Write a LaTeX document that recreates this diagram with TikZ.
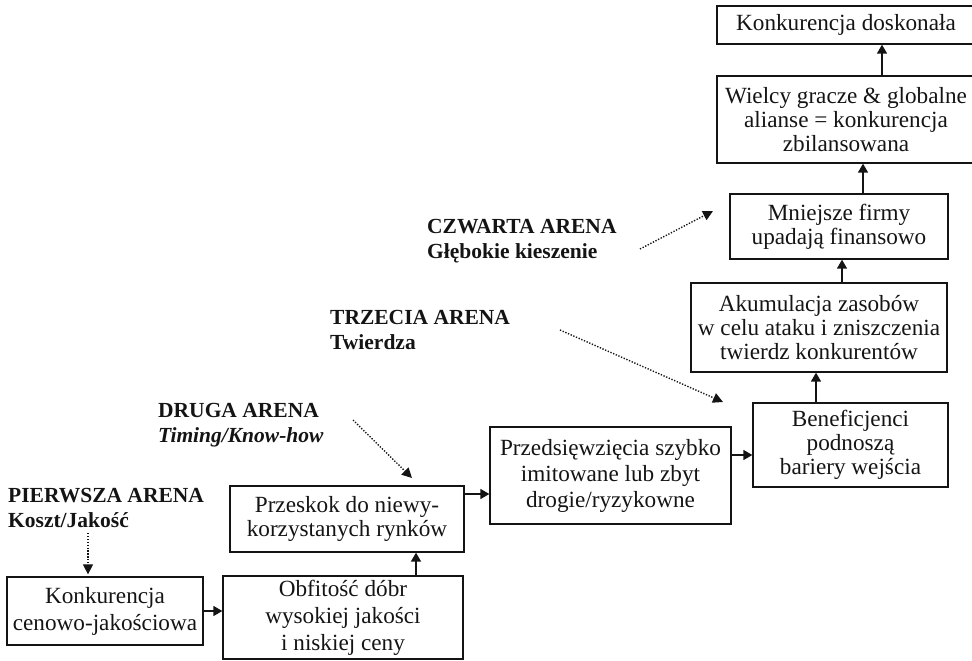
\documentclass[tikz,border=0pt]{standalone}
\usepackage{fontspec}
\setmainfont{Liberation Serif}
\usetikzlibrary{arrows.meta}

\definecolor{ink}{RGB}{20,20,20}
\newcommand\arenaboxfont{\fontsize{23.2}{24}\selectfont}
\newcommand\arenawidefont{\fontsize{23.2}{27}\selectfont}
\newcommand\arenalabelfont{\fontsize{21.5}{25}\selectfont\bfseries}

\begin{document}
\begin{tikzpicture}[x=1pt,y=-1pt,
  box/.style={draw=ink,line width=1.3pt,align=center,inner sep=0pt,
              text=ink,font=\arenaboxfont},
  arenalabel/.style={anchor=base west,align=left,inner sep=0pt,
              text=ink,font=\arenalabelfont},
  flow/.style={draw=ink,line width=1.4pt,-{Triangle[length=9pt,width=10pt]}},
  dotarr/.style={draw=ink,line width=1.4pt,dash pattern=on 1.3pt off 1.6pt,
              -{Triangle[length=10pt,width=10pt]}}]

\useasboundingbox (0,0) rectangle (972,661);

% process chain
\node[box,minimum width=196pt,minimum height=68pt,font=\arenawidefont] (k1) at (105,611)
  {Konkurencja\\cenowo-jakościowa};
\node[box,minimum width=240pt,minimum height=83pt,font=\arenawidefont] (k2) at (343,617.5)
  {Obfitość dóbr\\wysokiej jakości\\i niskiej ceny};
\node[box,minimum width=234pt,minimum height=66pt] (k3) at (347,519)
  {Przeskok do niewy-\\korzystanych rynków};
\node[box,minimum width=241pt,minimum height=97pt,font=\fontsize{23.2}{26}\selectfont] (k4) at (610.5,475.5)
  {Przedsięwzięcia szybko\\imitowane lub zbyt\\drogie/ryzykowne};
\node[box,minimum width=195pt,minimum height=84pt] (k5) at (850.5,445)
  {Beneficjenci\\podnoszą\\bariery wejścia};
\node[box,minimum width=256pt,minimum height=89pt] (k6) at (819,327.5)
  {Akumulacja zasobów\\w celu ataku i zniszczenia\\twierdz konkurentów};
\node[box,minimum width=218pt,minimum height=65pt] (k7) at (839,226.5)
  {Mniejsze firmy\\upadają finansowo};
\node[box,minimum width=258pt,minimum height=87pt] (k8) at (846,119.5)
  {Wielcy gracze \& globalne\\alianse = konkurencja\\zbilansowana};
\node[box,minimum width=258pt,minimum height=38pt] (k9) at (846,25)
  {Konkurencja doskonała};

% arena labels (anchored on the baseline of their second line)
\node[arenalabel] (a1) at (8,527) {PIERWSZA ARENA\\Koszt/Jakość};
\node[arenalabel] (a2) at (158,442) {DRUGA ARENA\\\textit{Timing/Know-how}};
\node[arenalabel] (a3) at (330,349) {TRZECIA ARENA\\Twierdza};
\node[arenalabel] (a4) at (427,258) {CZWARTA ARENA\\Głębokie kieszenie};

% connector guides
\coordinate (xa) at (416,0);
\coordinate (ya) at (0,494);
\coordinate (yb) at (0,455);
\coordinate (xb) at (816,0);
\coordinate (xc) at (842,0);
\coordinate (xd) at (863,0);
\coordinate (xe) at (882,0);

\draw[flow] (k1.east) -- (k1.east -| k2.west);
\draw[flow] (k2.north -| xa) -- (k3.south -| xa);
\draw[flow] (k3.east |- ya) -- (k4.west |- ya);
\draw[flow] (k4.east |- yb) -- (k5.west |- yb);
\draw[flow] (k5.north -| xb) -- (k6.south -| xb);
\draw[flow] (k6.north -| xc) -- (k7.south -| xc);
\draw[flow] (k7.north -| xd) -- (k8.south -| xd);
\draw[flow] (k8.north -| xe) -- (k9.south -| xe);

% dotted pointers from the arenas
\coordinate (d1) at (88,533);
\coordinate (d2s) at (353,420);
\coordinate (d2e) at (412,478);
\coordinate (d3s) at (560,330);
\coordinate (d3e) at (723,402);
\coordinate (d4s) at (640,249);
\coordinate (d4e) at (713,211);

\draw[dotarr,shorten >=2pt] (d1) -- (d1 |- k1.north);
\draw[dotarr] (d2s) -- (d2e);
\draw[dotarr] (d3s) -- (d3e);
\draw[dotarr] (d4s) -- (d4e);
\end{tikzpicture}
\end{document}
